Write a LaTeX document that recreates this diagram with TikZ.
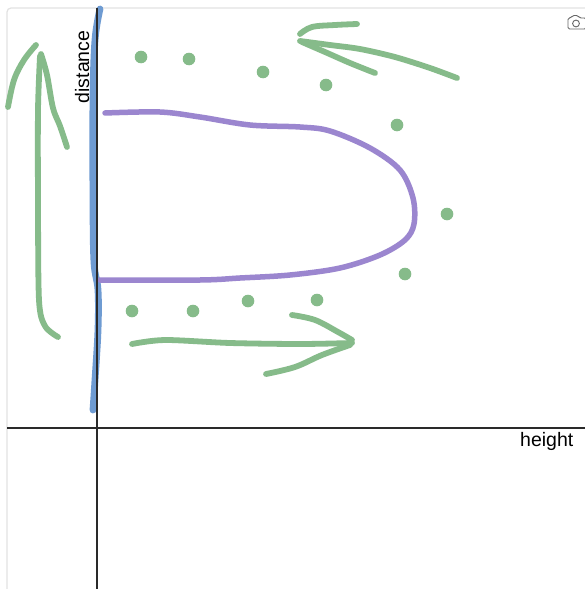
\documentclass[tikz,border=0pt]{standalone}
\usepackage{fontspec}
\setmainfont{Liberation Sans}
\definecolor{pen}{HTML}{86BB8A}
\definecolor{blu}{HTML}{6E9BD2}
\definecolor{pur}{HTML}{9B86CF}
\definecolor{axis}{HTML}{2A2A2A}
\definecolor{frame}{HTML}{E2E2E2}
\tikzset{
  stroke/.style={line width=5.8pt, line cap=round, line join=round},
  greenstroke/.style={stroke, draw=pen},
  dot/.style={fill=pen, draw=none},
  axisline/.style={draw=axis, line width=1.4pt},
  lbl/.style={font=\fontsize{19.5}{20}\selectfont, inner sep=0pt, text=black}
}
\begin{document}
\begin{tikzpicture}[x=1pt,y=-1pt]
\useasboundingbox (0,0) rectangle (585,589);
\fill[white] (0,0) rectangle (585,589);
% frame
\draw[frame, line width=1.2pt, rounded corners=4pt] (7,592) -- (7,8) -- (590,8);
% camera icon
\begin{scope}[draw=gray!80!black, line width=0.9pt]
\draw[rounded corners=1.5pt] (568,18) -- (571,18) -- (572.5,15.5) -- (578,15.5) -- (579.5,18) -- (586,18) -- (586,29) -- (568,29) -- cycle;
\draw (576,23.5) circle (3.4);
\end{scope}
% blue stroke
\draw[stroke, draw=blu, line width=6.8pt] plot[smooth, tension=0.6] coordinates {(100,9) (95,40) (93,100) (93,200) (94,262) (98,290) (98,330) (95,380) (93,410)};
% purple shape
\draw[stroke, draw=pur, line width=5.5pt] plot[smooth, tension=0.55] coordinates {(105,113) (160,112) (200,117) (250,125) (300,127) (330,131) (370,148) (400,170) (413,198) (414,224) (405,240) (380,255) (340,268) (290,275) (240,278) (200,280) (100,280)};
% axes
\draw[axisline] (97,8) -- (97,589);
\draw[axisline] (7,428) -- (585,428);
\node[lbl, anchor=base west] (h) at (520,446) {height};
\node[lbl, rotate=90, anchor=base west] (d) at (89,103.5) {distance};
% dots
\foreach \p/\n in {{(141,57)}/a,{(189,59)}/b,{(263,72)}/c,{(326,85)}/e,{(397,125)}/f,{(447,214)}/g,{(405,274)}/k,{(317,300)}/l,{(248,301)}/m,{(193,311)}/o,{(132,311)}/q}
  \fill[dot] \p circle (6.3);
% left up arrow
\draw[greenstroke] plot[smooth, tension=0.5] coordinates {(58,337) (45,326) (39,300) (38,200) (38,110) (40,56)};
\draw[greenstroke] plot[smooth, tension=0.6] coordinates {(8,107) (14,80) (24,60) (36,45)};
\draw[greenstroke] plot[smooth, tension=0.6] coordinates {(41,54) (47,75) (53,108) (60,126) (67,147)};
% top arrow
\draw[greenstroke] plot[smooth, tension=0.6] coordinates {(300,34) (312,27) (335,25) (357,24)};
\draw[greenstroke] plot[smooth, tension=0.5] coordinates {(300,41) (330,45) (360,49) (395,57) (430,68) (457,78)};
\draw[greenstroke] plot[smooth, tension=0.5] coordinates {(302,42) (325,52) (350,63) (375,73)};
% bottom arrow
\draw[greenstroke] plot[smooth, tension=0.5] coordinates {(132,344) (165,340) (230,343) (300,344) (352,343)};
\draw[greenstroke] plot[smooth, tension=0.6] coordinates {(292,315) (315,320) (338,332) (352,340)};
\draw[greenstroke] plot[smooth, tension=0.6] coordinates {(350,345) (322,355) (295,367) (266,374)};
\end{tikzpicture}
\end{document}
